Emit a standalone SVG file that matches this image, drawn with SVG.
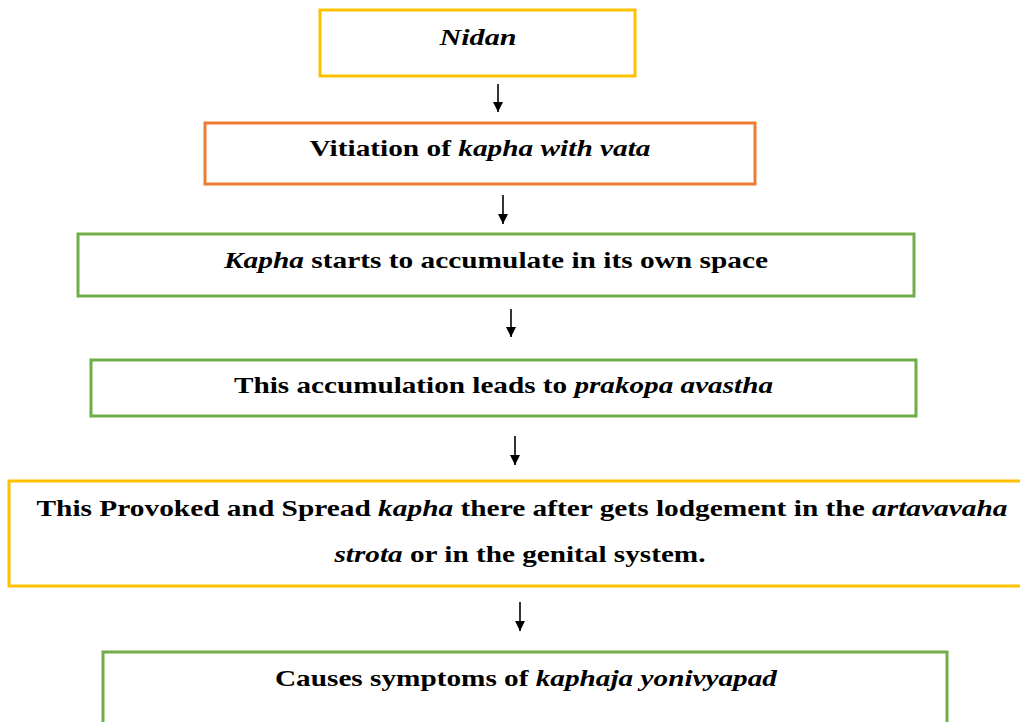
<svg xmlns="http://www.w3.org/2000/svg" width="1020" height="722" viewBox="0 0 1020 722">
<style>
.box{fill:#fff;stroke-width:3}
.y{stroke:#FFC000}
.o{stroke:#ED7D31}
.g{stroke:#70AD47}
.t{font-weight:bold;font-size:24px;fill:#000;text-anchor:middle}
.i{font-style:italic}
.conn line{stroke:#000;stroke-width:1.6}
</style>
<defs>
<marker id="ah" viewBox="0 0 10 10" refX="10" refY="5" markerWidth="11" markerHeight="10" markerUnits="userSpaceOnUse" orient="auto">
<path d="M0,0 L10,5 L0,10 Z" fill="#000"/>
</marker>
</defs>
<rect width="1020" height="722" fill="#fff"/>
<g font-family="'Liberation Serif', 'Times New Roman', Tinos, 'DejaVu Serif', serif">
<g id="n1"><rect class="box y" x="320" y="10" width="315" height="66"/><text class="t i" x="478" y="45" textLength="77" lengthAdjust="spacingAndGlyphs">Nidan</text></g>
<g id="n2"><rect class="box o" x="205" y="123" width="550" height="61"/><text class="t" x="480" y="156" textLength="341" lengthAdjust="spacingAndGlyphs">Vitiation of <tspan class="i">kapha with vata</tspan></text></g>
<g id="n3"><rect class="box g" x="78" y="234" width="836" height="62"/><text class="t" x="496" y="268" textLength="544" lengthAdjust="spacingAndGlyphs"><tspan class="i">Kapha</tspan> starts to accumulate in its own space</text></g>
<g id="n4"><rect class="box g" x="91" y="360" width="825" height="56"/><text class="t" x="503.5" y="393" textLength="539" lengthAdjust="spacingAndGlyphs">This accumulation leads to <tspan class="i">prakopa avastha</tspan></text></g>
<g id="n5"><rect class="box y" x="9" y="481" width="1020" height="105"/><text class="t" x="522" y="516" textLength="971" lengthAdjust="spacingAndGlyphs">This Provoked and Spread <tspan class="i">kapha</tspan> there after gets lodgement in the <tspan class="i">artavavaha</tspan></text><text class="t" x="520" y="562" textLength="371" lengthAdjust="spacingAndGlyphs"><tspan class="i">strota</tspan> or in the genital system.</text></g>
<g id="n6"><rect class="box g" x="103" y="652" width="844" height="80"/><text class="t" x="526" y="686" textLength="502" lengthAdjust="spacingAndGlyphs">Causes symptoms of <tspan class="i">kaphaja yonivyapad</tspan></text></g>
</g>
<g class="conn" id="connectors">
<line x1="498" y1="84" x2="498" y2="112" marker-end="url(#ah)"/>
<line x1="503" y1="195" x2="503" y2="224" marker-end="url(#ah)"/>
<line x1="511" y1="309" x2="511" y2="337" marker-end="url(#ah)"/>
<line x1="515" y1="436" x2="515" y2="465" marker-end="url(#ah)"/>
<line x1="520" y1="602" x2="520" y2="631" marker-end="url(#ah)"/>
</g>
</svg>
